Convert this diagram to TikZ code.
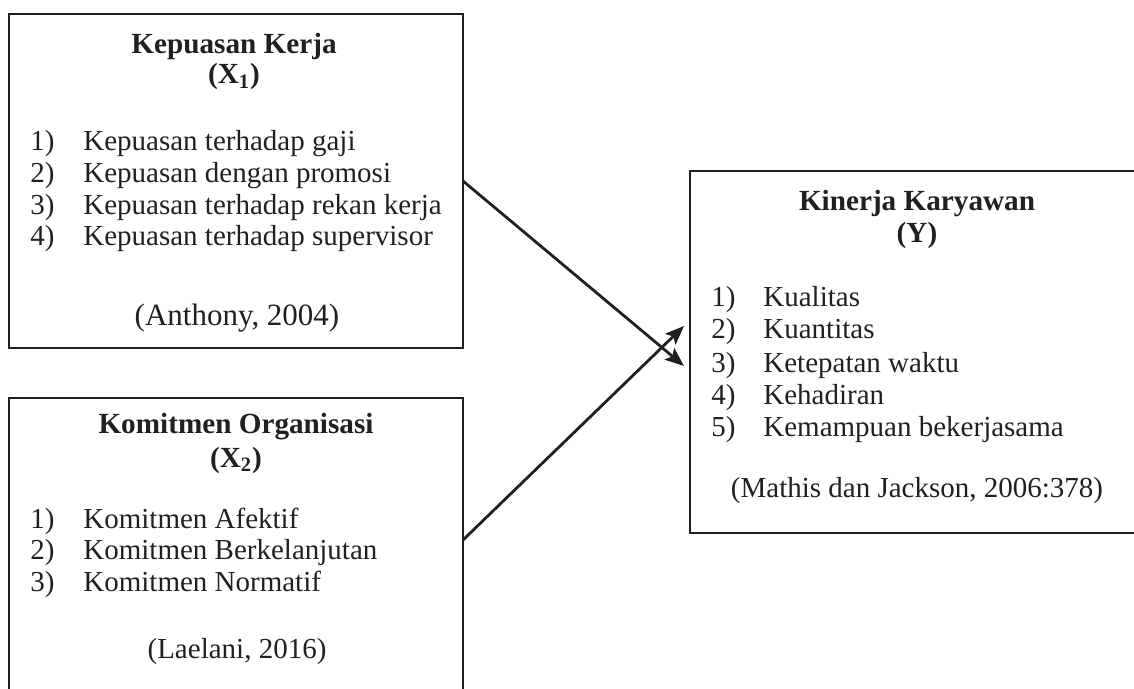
\documentclass[tikz,border=0pt]{standalone}
\usepackage{fontspec}
\setmainfont{Liberation Serif}
\usetikzlibrary{arrows.meta}
\definecolor{tinta}{HTML}{231F20}

\begin{document}
\begin{tikzpicture}[x=0.5pt,y=-0.5pt,>={Stealth[length=9.5pt,width=7.5pt,inset=2pt]},
	line width=1.4pt,draw=tinta,text=tinta,
	box node/.style={draw,rectangle,anchor=north west,inner sep=0pt,outer sep=0pt},
	title node/.style={anchor=base,inner sep=0pt,font=\fontsize{14.6}{16}\selectfont\bfseries},
	item node/.style={anchor=base west,inner sep=0pt,font=\fontsize{14.5}{17}\selectfont},
	cite node/.style={anchor=base,inner sep=0pt,font=\fontsize{14.5}{17}\selectfont}]
	
	\useasboundingbox (0,0) rectangle (1134,689);
	\clip (0,0) rectangle (1134,689);
	
	% kotak
	\node[box node,minimum width=227pt,minimum height=167pt] (x1) at (9,14) {};
	\node[box node,minimum width=227pt,minimum height=170pt] (x2) at (9,398) {};
	\node[box node,minimum width=228pt,minimum height=181pt] (y) at (690,171) {};
	
	% X1
	\node[title node] (x1t) at (234,54) {Kepuasan Kerja};
	\node[title node] (x1s) at (234,84) {(X\textsubscript{1})};
	\node[item node] (x1n1) at (29,151) {1)};
	\node[item node] (x1i1) at (82,151) {Kepuasan terhadap gaji};
	\node[item node] (x1n2) at (29,183) {2)};
	\node[item node] (x1i2) at (82,183) {Kepuasan dengan promosi};
	\node[item node] (x1n3) at (29,215) {3)};
	\node[item node] (x1i3) at (82,215) {Kepuasan terhadap rekan kerja};
	\node[item node] (x1n4) at (29,246) {4)};
	\node[item node] (x1i4) at (82,246) {Kepuasan terhadap supervisor};
	\node[cite node,font=\fontsize{15.5}{18}\selectfont] (x1c) at (237,326) {(Anthony, 2004)};
	
	% X2
	\node[title node] (x2t) at (236,433) {Komitmen Organisasi};
	\node[title node] (x2s) at (236,467) {(X\textsubscript{2})};
	\node[item node] (x2n1) at (29,528) {1)};
	\node[item node] (x2i1) at (82,528) {Komitmen Afektif};
	\node[item node] (x2n2) at (29,559) {2)};
	\node[item node] (x2i2) at (82,559) {Komitmen Berkelanjutan};
	\node[item node] (x2n3) at (29,591) {3)};
	\node[item node] (x2i3) at (82,591) {Komitmen Normatif};
	\node[cite node] (x2c) at (237,658) {(Laelani, 2016)};
	
	% Y
	\node[title node] (yt) at (917,211) {Kinerja Karyawan};
	\node[title node] (ys) at (917,243) {(Y)};
	\node[item node] (yn1) at (710,307) {1)};
	\node[item node] (yi1) at (762,307) {Kualitas};
	\node[item node] (yn2) at (710,339) {2)};
	\node[item node] (yi2) at (762,339) {Kuantitas};
	\node[item node] (yn3) at (710,372) {3)};
	\node[item node] (yi3) at (762,372) {Ketepatan waktu};
	\node[item node] (yn4) at (710,404) {4)};
	\node[item node] (yi4) at (762,404) {Kehadiran};
	\node[item node] (yn5) at (710,437) {5)};
	\node[item node] (yi5) at (762,437) {Kemampuan bekerjasama};
	\node[cite node] (yc) at (917,497) {(Mathis dan Jackson, 2006:378)};
	
	% panah
	\coordinate (s2) at (463,540);
	\coordinate (t1) at (684,366);
	\coordinate (t2) at (684,326);
	\draw[->] (x1.east) -- (t1);
	\draw[->] (s2) -- (t2);
	
\end{tikzpicture}
\end{document}
